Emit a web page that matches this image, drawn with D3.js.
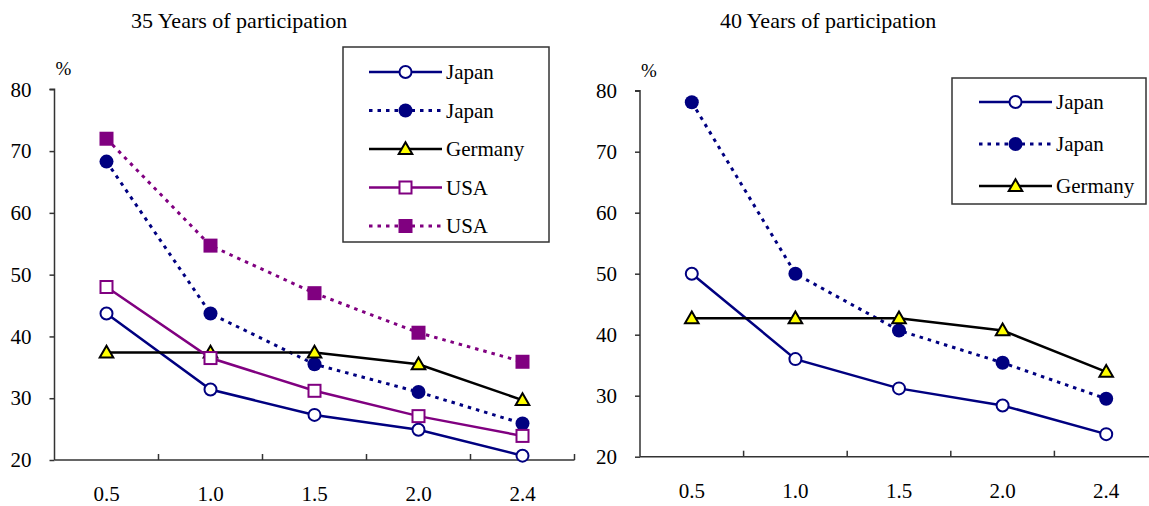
<!DOCTYPE html>
<html><head><meta charset="utf-8">
<script src="https://cdn.jsdelivr.net/npm/d3@7"></script>
</head><body style="margin:0;background:#fff">
<svg id="c" width="1149" height="506" style="display:block"></svg>
<script>
const categories = ["0.5","1.0","1.5","2.0","2.4"];
const yTicks = [20,30,40,50,60,70,80];
// 35 years
const left_japanSolid  = [43.7,31.4,27.3,24.9,20.7];
const left_japanDotted = [68.3,43.7,35.5,31.0,25.9];
const left_germany     = [37.4,37.4,37.4,35.5,29.7];
const left_usaSolid    = [48.0,36.5,31.2,27.1,23.9];
const left_usaDotted   = [72.0,54.7,47.0,40.6,35.9];
// 40 years
const right_japanSolid  = [50.0,36.0,31.2,28.4,23.7];
const right_japanDotted = [78.1,50.0,40.7,35.4,29.5];
const right_germany     = [42.7,42.7,42.7,40.7,33.9];
const legendNames = ["Japan","Japan","Germany","USA","USA"];

const FONT = "Liberation Serif";
const NAVY="#000080", PURPLE="#800080";
const styles = {
  japanSolid:{color:NAVY,dash:null,marker:"circle",fill:"#fff"},
  japanDotted:{color:NAVY,dash:"3.5,5",marker:"circle",fill:NAVY},
  germany:{color:"#000",dash:null,marker:"triangle",fill:"#ffff00"},
  usaSolid:{color:PURPLE,dash:null,marker:"square",fill:"#fff"},
  usaDotted:{color:PURPLE,dash:"3.5,5",marker:"square",fill:PURPLE}
};
const svg = d3.select("#c");

function txt(g,x,y,size,s){
  return g.append("text").attr("x",x).attr("y",y).style("font-family",FONT).style("font-size",size+"px").style("fill","#000").text(s);
}

function marker(g,type,x,y,st){
  if(type==="circle"){
    if(st.fill==="#fff")
      g.append("circle").attr("cx",x).attr("cy",y).attr("r",6).attr("fill","#fff").attr("stroke",st.color).attr("stroke-width",2);
    else
      g.append("circle").attr("cx",x).attr("cy",y).attr("r",7).attr("fill",st.fill);
  } else if(type==="square"){
    if(st.fill==="#fff")
      g.append("rect").attr("x",x-6).attr("y",y-6).attr("width",12).attr("height",12).attr("fill","#fff").attr("stroke",st.color).attr("stroke-width",2);
    else
      g.append("rect").attr("x",x-7).attr("y",y-7).attr("width",14).attr("height",14).attr("fill",st.fill);
  } else {
    const s=d3.symbol().type(d3.symbolTriangle).size(80);
    g.append("path").attr("d",s()).attr("transform",`translate(${x},${y+1})`)
     .attr("fill",st.fill).attr("stroke","#000").attr("stroke-width",2).attr("stroke-linejoin","miter");
  }
}

function chart(opt){
  const n = categories.length;
  const x = d3.scaleBand().domain(categories).range([opt.x0, opt.x0+opt.step*n]);
  const y = d3.scaleLinear().domain([20,80]).range([opt.yb, opt.yt]);
  const g = svg.append("g");
  txt(g,opt.titleX,28,22,opt.title);
  txt(g,opt.x0+1,opt.yt-14,19,"%");
  // y axis
  const ya = g.append("g").attr("transform",`translate(${opt.x0},0)`)
    .call(d3.axisLeft(y).tickValues(yTicks).tickSize(5).tickPadding(18).tickFormat(d3.format("d")));
  ya.select(".domain").attr("stroke","#333").attr("stroke-width",1.5).attr("d",`M-5,${opt.yt}H0V${opt.yb}`);
  ya.selectAll(".tick line").attr("stroke","#333").attr("stroke-width",1.5);
  ya.selectAll(".tick text").style("font-family",FONT).style("font-size","21px").style("fill","#000");
  // x axis
  const xa = g.append("g").attr("transform",`translate(0,${opt.yb})`)
    .call(d3.axisBottom(x).tickSize(0).tickPadding(26));
  xa.select(".domain").attr("stroke","#333").attr("stroke-width",1.5).attr("d",`M${opt.x0},0H${opt.x0+opt.step*n}`);
  xa.selectAll(".tick text").style("font-family",FONT).style("font-size","21px").style("fill","#000");
  const bounds = categories.slice(1).map(c=>x(c)).concat([opt.x0+opt.step*n]);
  g.selectAll(null).data(bounds).enter().append("line")
    .attr("x1",d=>d).attr("x2",d=>d).attr("y1",opt.yb).attr("y2",opt.yb-6)
    .attr("stroke","#333").attr("stroke-width",1.5);
  const cx = c => x(c)+x.bandwidth()/2;
  // legend
  const lg = g.append("g");
  lg.append("rect").attr("x",opt.lx).attr("y",opt.ly).attr("width",opt.lw).attr("height",opt.lh)
    .attr("fill","#fff").attr("stroke","#333").attr("stroke-width",1.5);
  opt.series.forEach((s,i)=>{
    const st=styles[s.key], yy=opt.ly+opt.lfirst+i*opt.lgap;
    lg.append("line").attr("x1",opt.lx+opt.l1).attr("x2",opt.lx+opt.l2).attr("y1",yy).attr("y2",yy)
      .attr("stroke",st.color).attr("stroke-width",st.dash?3:2.5).attr("stroke-dasharray",st.dash);
    marker(lg,st.marker,opt.lx+(opt.l1+opt.l2)/2,yy,st);
    txt(lg,opt.lx+opt.l2+4,yy+7,21,s.name);
  });
  // series
  const line = d3.line().x((d,i)=>cx(categories[i])).y(d=>y(d));
  opt.series.forEach(s=>{
    const st=styles[s.key];
    g.append("path").datum(s.values).attr("d",line).attr("fill","none")
     .attr("stroke",st.color).attr("stroke-width",st.dash?3:2.5).attr("stroke-dasharray",st.dash);
    s.values.forEach((v,i)=>marker(g,st.marker,cx(categories[i]),y(v),st));
  });
}

chart({x0:54.5,step:104,yt:89.3,yb:460,title:"35 Years of participation",titleX:131,
  lx:343,ly:47,lw:206,lh:195,lfirst:25,lgap:38.5,l1:26,l2:99,
  series:[
    {key:"japanSolid",name:legendNames[0],values:left_japanSolid},
    {key:"japanDotted",name:legendNames[1],values:left_japanDotted},
    {key:"germany",name:legendNames[2],values:left_germany},
    {key:"usaSolid",name:legendNames[3],values:left_usaSolid},
    {key:"usaDotted",name:legendNames[4],values:left_usaDotted}
  ]});
chart({x0:640,step:103.6,yt:90.7,yb:456.7,title:"40 Years of participation",titleX:720,
  lx:952,ly:78,lw:194,lh:126,lfirst:24,lgap:42,l1:27,l2:100,
  series:[
    {key:"japanSolid",name:legendNames[0],values:right_japanSolid},
    {key:"japanDotted",name:legendNames[1],values:right_japanDotted},
    {key:"germany",name:legendNames[2],values:right_germany}
  ]});
</script>
</body></html>
